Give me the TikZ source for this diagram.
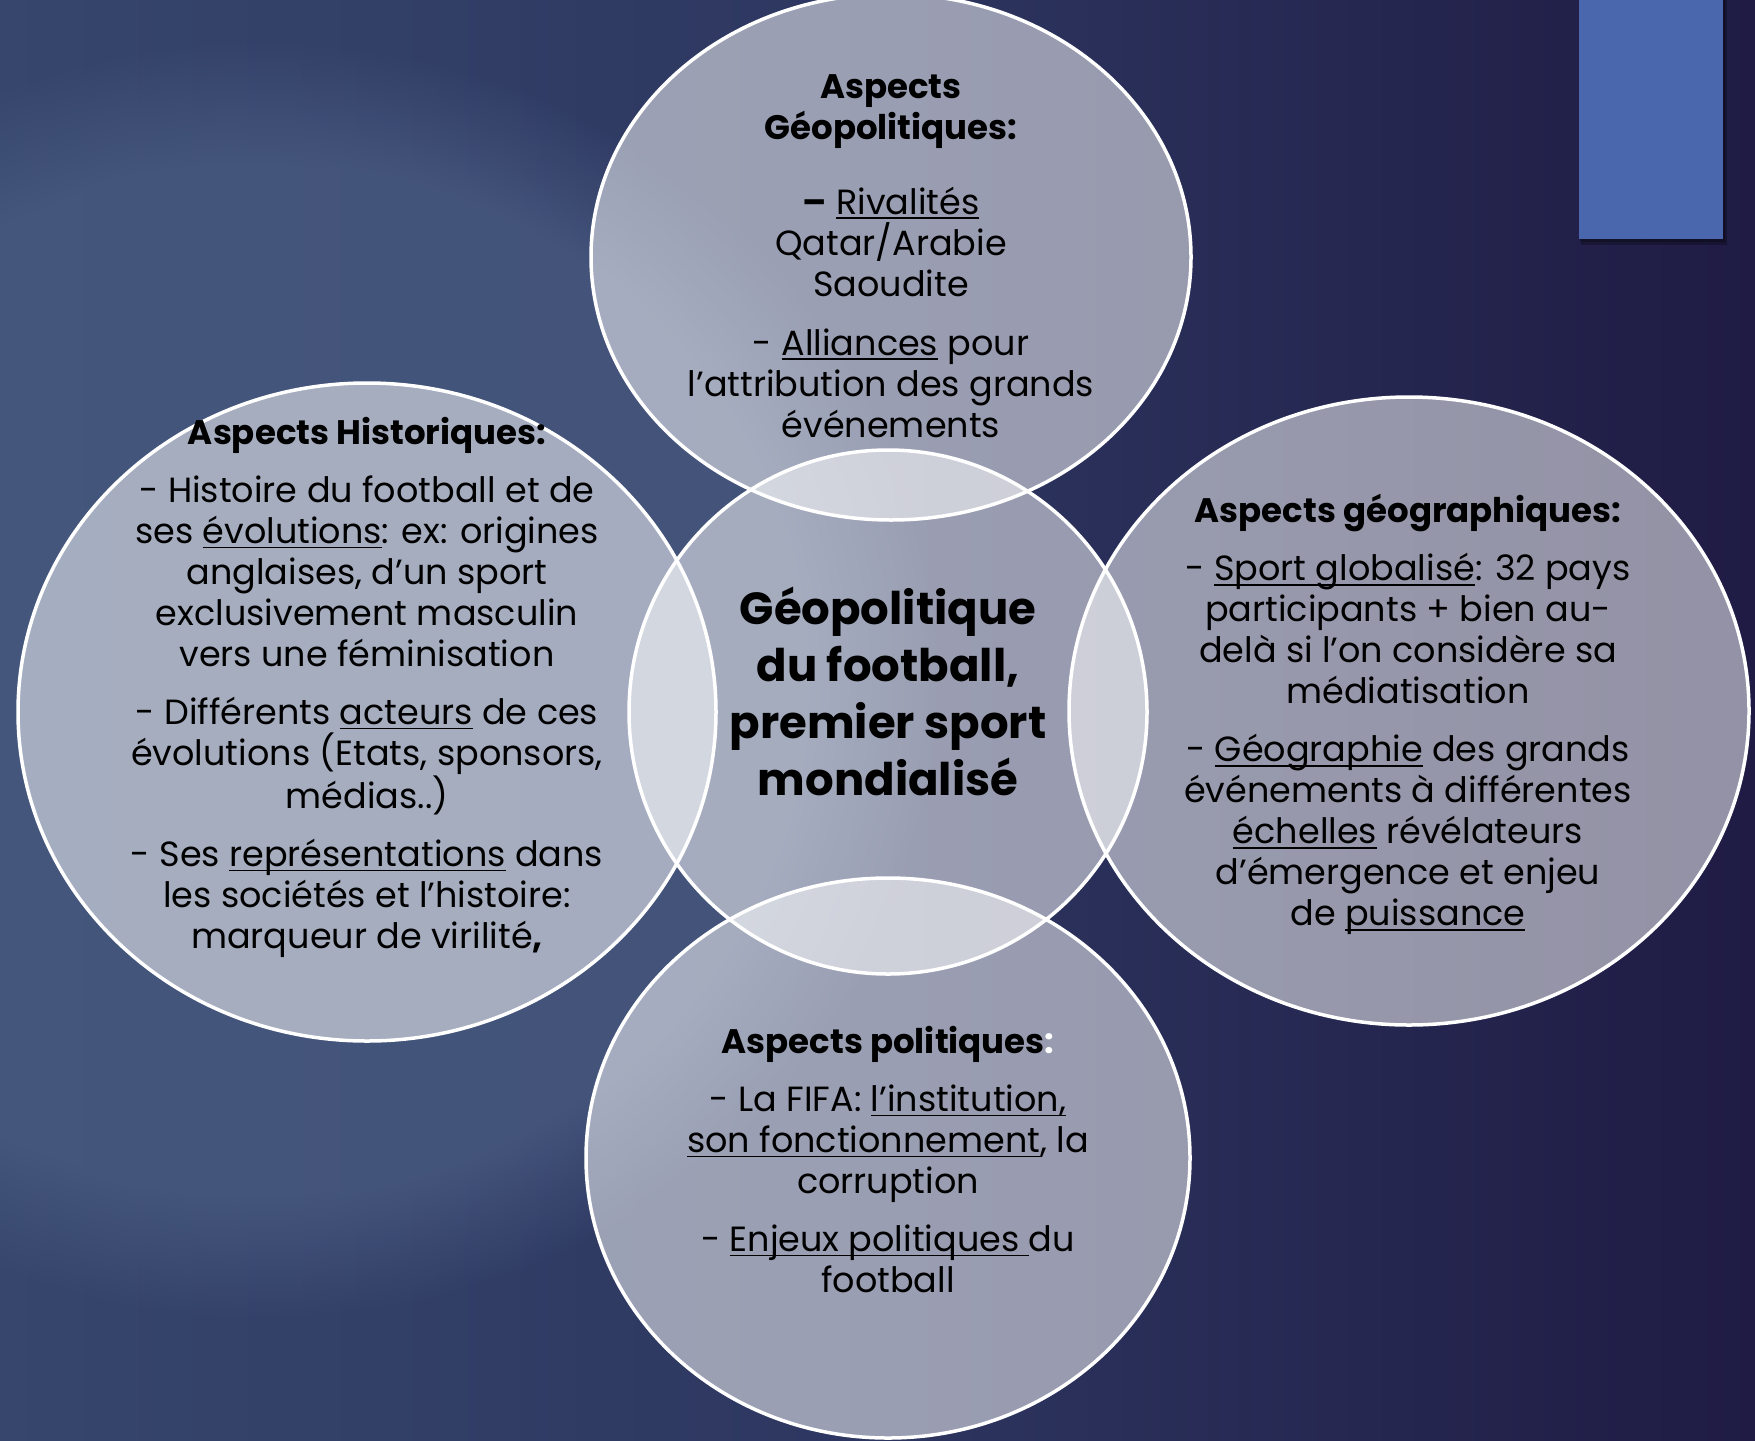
\documentclass[tikz,border=0pt]{standalone}
\usepackage{fontspec}
\setmainfont{Poppins}
\newlength{\ulwd}
\newcommand{\ulw}[1]{\settowidth{\ulwd}{#1}\rlap{\rule[-5pt]{\ulwd}{1.6pt}}#1}
\usetikzlibrary{fadings}
\definecolor{bgL}{HTML}{36466C}
\definecolor{bgM}{HTML}{2D3660}
\definecolor{bgR}{HTML}{1F1B44}
\definecolor{glow}{HTML}{4A5C82}
\definecolor{rectblue}{HTML}{4A67AD}
\tikzset{
  bubble/.style={fill=white, fill opacity=0.52},
  rim/.style={draw=white, line width=3.5pt},
  body/.style={align=center, inner sep=0pt, anchor=north, text=black,
    font=\fontsize{35}{41}\selectfont},
  title/.style={align=center, inner sep=0pt, anchor=north, text=black,
    font=\bfseries\fontsize{45}{57}\selectfont},
}
\newcommand{\hd}[1]{{\bfseries\fontsize{34}{41}\selectfont #1}}
\begin{document}
\begin{tikzpicture}[x=1pt,y=-1pt]
\useasboundingbox (0,0) rectangle (1755,1440);
% background
\shade[left color=bgL, right color=bgR, middle color=bgM] (0,0) rectangle (1755,1440);
\fill[glow, path fading=circle with fuzzy edge 20 percent, opacity=0.75] (260,680) ellipse [x radius=680, y radius=640];
% blue rectangle with shadow
\fill[black, opacity=0.25] (1581,0) rectangle (1727,245);
\fill[black, opacity=0.25] (1580,0) rectangle (1725,242);
\fill[rectblue] (1579,0) rectangle (1723,239);
% circles: fills
\fill[bubble] (891,257) ellipse [x radius=300, y radius=263];
\fill[bubble] (367,712) ellipse [x radius=349, y radius=329];
\fill[bubble] (1409,711) ellipse [x radius=340, y radius=314];
\fill[bubble] (888,1158) ellipse [x radius=302, y radius=280];
\fill[bubble] (888,712) ellipse [x radius=259, y radius=262];
% circles: rims
\draw[rim] (891,257) ellipse [x radius=300, y radius=263];
\draw[rim] (367,712) ellipse [x radius=349, y radius=329];
\draw[rim] (1409,711) ellipse [x radius=340, y radius=314];
\draw[rim] (888,1158) ellipse [x radius=302, y radius=280];
\draw[rim] (888,712) ellipse [x radius=259, y radius=262];
% texts
\node[body] (geo) at (891,74) {\hd{Aspects}\\
\hd{Géopolitiques:}\\[34pt]
{\bfseries –} \ulw{Rivalités}\\
Qatar/Arabie\\
Saoudite\\[18pt]
- \ulw{Alliances} pour\\
l’attribution des grands\\
événements};
\node[body] (hist) at (367,417) {\hd{Aspects Historiques:}\\[17pt]
- Histoire du football et de\\
ses \ulw{évolutions}: ex: origines\\
anglaises, d’un sport\\
exclusivement masculin\\
vers une féminisation\\[17pt]
- Différents \ulw{acteurs} de ces\\
évolutions (Etats, sponsors,\\
médias..)\\[17pt]
- Ses \ulw{représentations} dans\\
les sociétés et l’histoire:\\
marqueur de virilité{\bfseries ,}};
\node[body] (geog) at (1408,494) {\hd{Aspects géographiques:}\\[17pt]
- \ulw{Sport globalisé}: 32 pays\\
participants + bien au-\\
delà si l’on considère sa\\
médiatisation\\[17pt]
- \ulw{Géographie} des grands\\
événements à différentes\\
\ulw{échelles} révélateurs\\
d’émergence et enjeu\\
de \ulw{puissance}};
\node[body] (pol) at (888,1026) {\hd{Aspects politiques\textcolor{white}{:}}\\[17pt]
- La FIFA: \ulw{l’institution,}\\
\ulw{son fonctionnement}, la\\
corruption\\[17pt]
- \ulw{Enjeux politiques }du\\
football};
\node[title] (main) at (888,587) {Géopolitique\\
du football,\\
premier sport\\
mondialisé};
\end{tikzpicture}
\end{document}
